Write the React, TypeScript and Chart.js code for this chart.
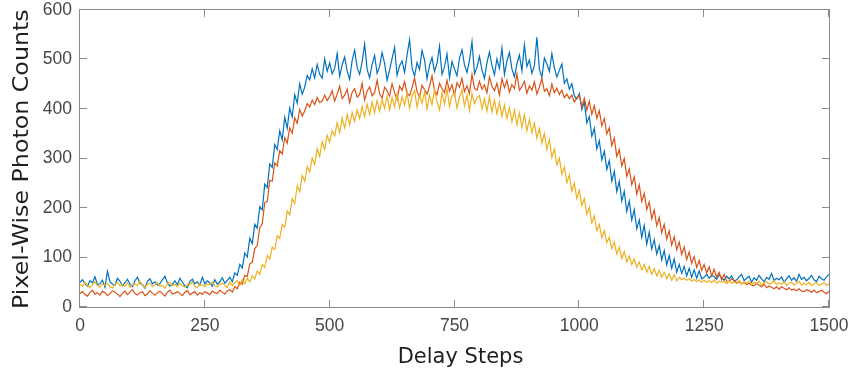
import { useEffect, useRef } from 'react';
import { Chart, registerables } from 'chart.js';

Chart.register(...registerables);

// Delay step spacing between stored samples
const STEP = 5;
const xTickValues = [0, 250, 500, 750, 1000, 1250, 1500];
const yTickValues = [0, 100, 200, 300, 400, 500, 600];
const xTitle = 'Delay Steps';
const yTitle = 'Pixel-Wise Photon Counts';

const seriesBlue = [
  50, 55, 47, 42, 53, 49, 61, 45, 47, 54,
  40, 72, 51, 46, 44, 58, 52, 43, 49, 56,
  46, 41, 53, 60, 48, 45, 38, 52, 57, 47,
  51, 44, 47, 55, 62, 49, 42, 46, 53, 45,
  58, 50, 43, 39, 52, 56, 47, 51, 44, 60,
  47, 53, 49, 42, 55, 46, 51, 59, 48, 54,
  60, 51, 69, 64, 86, 79, 109, 101, 139, 128,
  167, 159, 203, 196, 248, 241, 289, 282, 328, 318,
  356, 338, 383, 361, 402, 384, 429, 412, 451, 430,
  444, 468, 459, 481, 463, 490, 470, 462, 501, 476,
  493, 471, 482, 512, 466, 489, 505, 477, 460, 498,
  519, 484, 470, 495, 531, 480, 463, 490, 508, 472,
  486, 514, 492, 458, 479, 502, 525, 468, 487, 497,
  474, 509, 540, 483, 466, 494, 480, 518, 499, 461,
  488, 504, 476, 492, 527, 470, 485, 511, 463, 496,
  481, 467, 503, 520, 489, 474, 498, 536, 471, 484,
  506, 479, 462, 493, 515, 488, 469, 501, 482, 523,
  470, 497, 514, 481, 465, 491, 509, 477, 530, 486,
  499, 472, 488, 545, 480, 464, 503, 491, 476, 512,
  483, 465, 478, 491, 452, 461, 440, 451, 427, 420,
  431, 399, 414, 372, 385, 345, 361, 319, 336, 297,
  315, 278, 296, 254, 274, 233, 254, 214, 234, 193,
  214, 176, 197, 158, 176, 141, 165, 127, 151, 117,
  136, 107, 124, 95, 114, 85, 104, 78, 97, 70,
  86, 68, 82, 63, 78, 60, 75, 58, 73, 57,
  60, 66, 58, 64, 61, 56, 65, 59, 54, 62,
  57, 63, 52, 55, 61, 66, 53, 58, 62, 50,
  59, 54, 64, 57, 51, 60, 56, 68, 53, 58,
  55, 61, 50, 57, 63, 54, 59, 52, 66, 56,
  60, 53, 58, 64, 55, 51, 62, 57, 54, 61, 66,
];

const seriesRed = [
  27, 31, 25, 22, 30, 34, 26, 29, 24, 32,
  29, 23, 27, 33, 30, 26, 21, 28, 32, 25,
  30, 35, 27, 24, 29, 31, 23, 26, 33, 28,
  24, 29, 32, 27, 22, 30, 34, 26, 28, 31,
  27, 23, 30, 33, 25, 28, 31, 24, 29, 26,
  31, 28, 25, 32, 29, 27, 34, 30, 26, 33,
  35, 30, 41, 37, 50, 46, 64, 62, 87, 90,
  118, 124, 160, 168, 211, 213, 256, 254, 291, 285,
  316, 309, 342, 331, 362, 351, 382, 371, 399, 386,
  396, 411, 404, 418, 409, 423, 413, 416, 428, 417,
  425, 437, 416, 430, 446, 421, 428, 440, 413, 434,
  441, 424, 429, 452, 418, 436, 445, 427, 433, 458,
  430, 422, 444, 437, 426, 451, 433, 419, 446, 438,
  455, 432, 427, 443, 462, 435, 424, 448, 439, 430,
  446, 467, 437, 429, 452, 441, 433, 458, 436, 449,
  428, 453, 444, 462, 435, 447, 431, 470, 442, 438,
  456, 440, 449, 433, 465, 446, 437, 452, 428, 461,
  443, 458, 434, 449, 441, 471, 438, 445, 456, 432,
  447, 438, 455, 430, 444, 462, 436, 441, 427, 450,
  433, 442, 429, 438, 423, 430, 421, 428, 414, 423,
  427, 405, 422, 398, 416, 389, 407, 381, 397, 366,
  381, 350, 362, 326, 341, 304, 318, 285, 300, 264,
  279, 247, 263, 228, 247, 213, 230, 197, 212, 178,
  196, 164, 181, 150, 167, 137, 154, 125, 142, 116,
  131, 106, 121, 96, 111, 88, 102, 80, 94, 74,
  86, 69, 81, 63, 76, 60, 70, 55, 66, 52,
  52, 57, 53, 49, 51, 47, 50, 45, 48, 44,
  43, 48, 44, 41, 46, 39, 42, 40, 37, 41,
  36, 41, 38, 35, 39, 34, 36, 33, 37, 32,
  31, 35, 33, 30, 34, 29, 31, 34, 30, 27, 32,
];

const seriesYellow = [
  46, 42, 49, 44, 39, 45, 51, 43, 40, 47,
  44, 48, 41, 38, 46, 50, 43, 45, 42, 49,
  40, 45, 47, 43, 52, 44, 39, 46, 48, 41,
  45, 49, 42, 44, 38, 47, 50, 43, 46, 41,
  48, 43, 40, 46, 45, 51, 42, 39, 47, 44,
  42, 47, 45, 50, 43, 41, 46, 48, 44, 39,
  51, 43, 49, 53, 44, 55, 47, 58, 51, 63,
  57, 73, 66, 86, 80, 104, 97, 121, 116, 144,
  139, 167, 161, 194, 186, 219, 209, 245, 233, 266,
  254, 284, 273, 301, 288, 320, 304, 334, 318, 347,
  333, 356, 346, 372, 352, 381, 362, 389, 368, 393,
  375, 398, 381, 406, 384, 410, 389, 414, 393, 417,
  396, 419, 401, 426, 398, 423, 405, 431, 402, 425,
  408, 433, 401, 426, 437, 404, 429, 411, 435, 400,
  428, 409, 438, 414, 398, 433, 410, 441, 405, 427,
  433, 402, 424, 439, 406, 428, 397, 431, 411, 423,
  427, 400, 421, 396, 425, 394, 418, 390, 414, 385,
  408, 381, 403, 374, 398, 368, 392, 363, 388, 356,
  379, 352, 372, 341, 361, 331, 350, 318, 339, 302,
  319, 287, 301, 268, 283, 251, 267, 234, 250, 219,
  236, 205, 219, 187, 201, 170, 184, 154, 167, 140,
  154, 130, 141, 118, 131, 107, 121, 98, 112, 91,
  103, 86, 97, 80, 91, 75, 86, 70, 82, 66,
  77, 63, 74, 60, 70, 57, 67, 54, 65, 53,
  60, 55, 58, 54, 57, 52, 56, 51, 55, 50,
  54, 50, 53, 49, 55, 48, 52, 50, 51, 47,
  53, 48, 51, 47, 54, 46, 50, 49, 52, 45,
  50, 47, 52, 44, 49, 51, 46, 48, 53, 45,
  49, 46, 51, 44, 48, 50, 45, 47, 52, 44,
  48, 45, 50, 43, 47, 49, 44, 46, 50, 43, 47,
];

const toPoints = (vals: number[]) => vals.map((v, i) => ({ x: i * STEP, y: v }));

const axesPlugin = {
  id: 'matlabAxes',
  afterDraw(chart: any) {
    const { ctx, chartArea } = chart;
    const { left, right, top, bottom } = chartArea;
    const xs = chart.scales.x;
    const ys = chart.scales.y;
    ctx.save();
    ctx.strokeStyle = '#8a8a8a';
    ctx.lineWidth = 1;
    ctx.strokeRect(left - 0.5, top - 0.5, right - left + 1, bottom - top + 1);
    const tl = 7;
    ctx.beginPath();
    for (const v of xTickValues) {
      const px = Math.round(xs.getPixelForValue(v)) - 0.5;
      ctx.moveTo(px, bottom);
      ctx.lineTo(px, bottom - tl);
      ctx.moveTo(px, top);
      ctx.lineTo(px, top + tl);
    }
    for (const v of yTickValues) {
      const py = Math.round(ys.getPixelForValue(v)) - 0.5;
      ctx.moveTo(left, py);
      ctx.lineTo(left + tl, py);
      ctx.moveTo(right, py);
      ctx.lineTo(right - tl, py);
    }
    ctx.stroke();

    // axis titles
    ctx.fillStyle = '#1e1e1e';
    ctx.font = '21px "DejaVu Sans"';
    ctx.textBaseline = 'alphabetic';
    ctx.textAlign = 'center';
    ctx.fillText(xTitle, (left + right) / 2 + 6, 363);

    ctx.translate(28, 309);
    ctx.rotate(-Math.PI / 2);
    ctx.scale(1.13, 1);
    ctx.textAlign = 'left';
    ctx.fillText(yTitle, 0, 0);
    ctx.restore();
  },
};

export default function App() {
  const canvasRef = useRef<HTMLCanvasElement | null>(null);

  useEffect(() => {
    const canvas = canvasRef.current;
    if (!canvas) return;
    const tickFont = { family: '"Liberation Sans", Arial, sans-serif', size: 17.5 };
    const chart = new Chart(canvas, {
      type: 'line',
      data: {
        datasets: [
          { label: 'Series 1', data: toPoints(seriesBlue), borderColor: '#0072BD', order: 2 },
          { label: 'Series 2', data: toPoints(seriesRed), borderColor: '#D95319', order: 1 },
          { label: 'Series 3', data: toPoints(seriesYellow), borderColor: '#EDB120', order: 0 },
        ],
      },
      options: {
        responsive: false,
        maintainAspectRatio: false,
        animation: false,
        devicePixelRatio: 1,
        layout: { padding: { top: 10, right: 22, left: 0, bottom: 0 } },
        elements: {
          point: { radius: 0 },
          line: { borderWidth: 1.2, tension: 0 },
        },
        plugins: {
          legend: { display: false },
          tooltip: { enabled: false },
        },
        scales: {
          x: {
            type: 'linear',
            min: 0,
            max: 1500,
            grid: { display: false, drawTicks: false },
            border: { display: false },
            afterBuildTicks: (s: any) => {
              s.ticks = xTickValues.map((v) => ({ value: v }));
            },
            afterFit: (s: any) => {
              s.height = 68;
              s.paddingLeft = 0;
              s.paddingRight = 0;
            },
            ticks: {
              font: tickFont,
              color: '#474747',
              padding: 9,
              maxRotation: 0,
              autoSkip: false,
              callback: (v: any) => String(v),
            },
          },
          y: {
            type: 'linear',
            min: 0,
            max: 600,
            grid: { display: false, drawTicks: false },
            border: { display: false },
            afterBuildTicks: (s: any) => {
              s.ticks = yTickValues.map((v) => ({ value: v }));
            },
            afterFit: (s: any) => {
              s.width = 80;
              s.paddingTop = 0;
              s.paddingBottom = 0;
            },
            ticks: { font: tickFont, color: '#474747', padding: 8, callback: (v: any) => String(v) },
          },
        },
      },
      plugins: [axesPlugin],
    });
    return () => chart.destroy();
  }, []);

  return (
    <div style={{ position: 'absolute', left: 0, top: 0, width: 851, height: 375, background: '#fff' }}>
      <canvas ref={canvasRef} width={851} height={375} style={{ display: 'block' }} />
    </div>
  );
}
